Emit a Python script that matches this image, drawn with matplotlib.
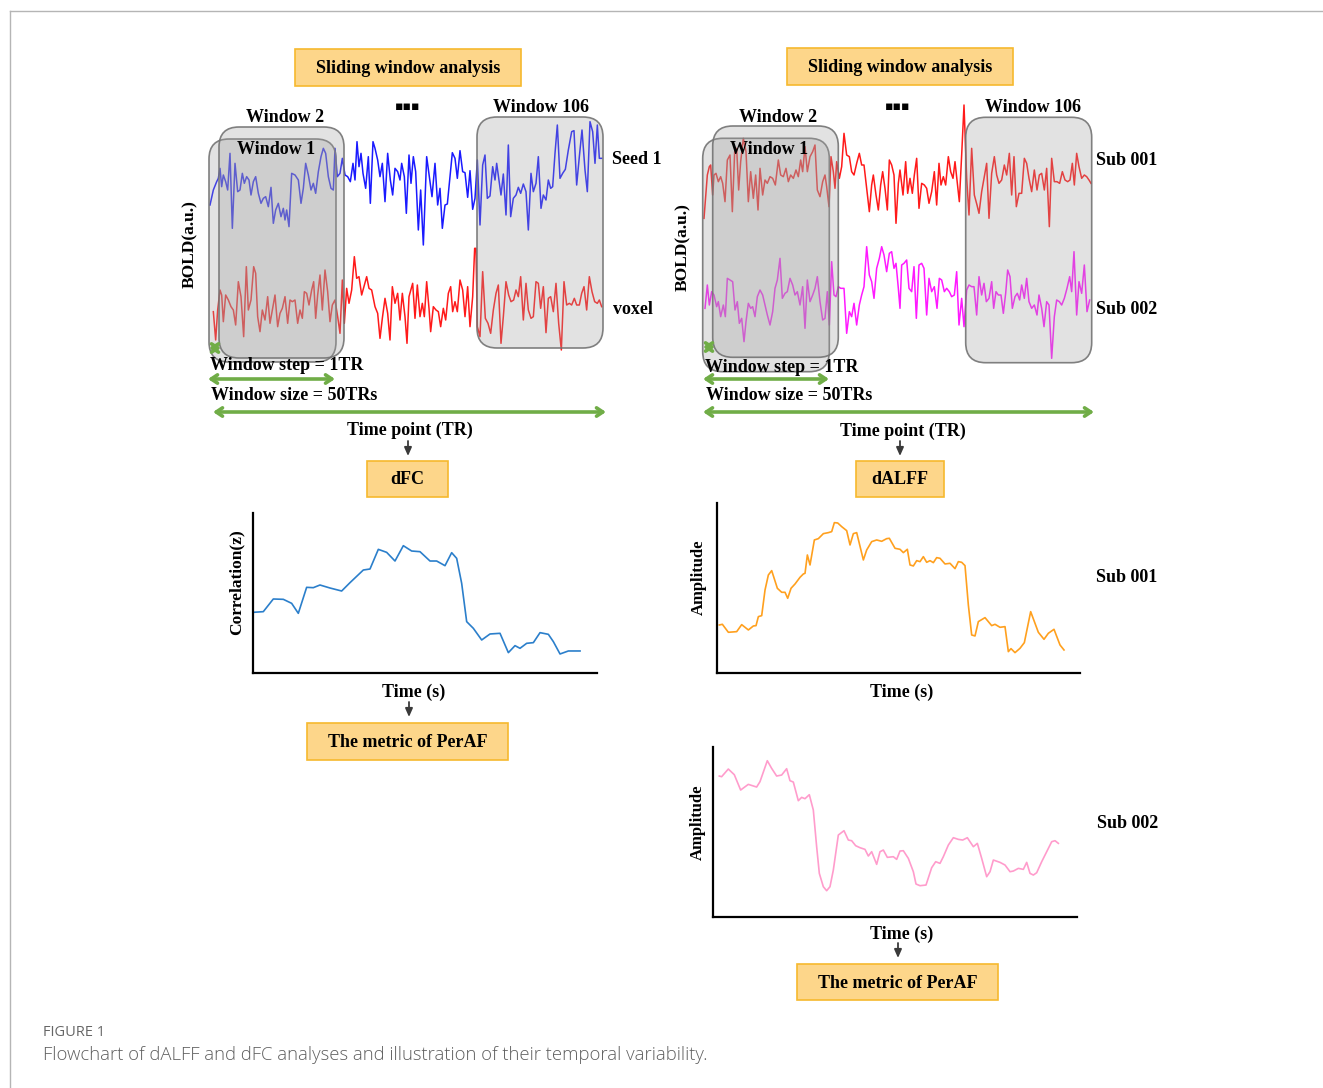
import numpy as np
import matplotlib
matplotlib.use("Agg")
import matplotlib.pyplot as plt
from matplotlib.patches import FancyBboxPatch, Rectangle

W, H = 1323, 1088
SERIF = "Liberation Serif"

# ---- BOLD traces, left panel (time in a.u., level read from the top) ----
seed1_t = [15, 25, 35, 40, 45, 50, 55, 62, 68, 75, 82, 90, 98, 105, 112, 118, 125, 132, 138, 145,
           152, 160, 168, 175, 182, 190, 198, 205, 212, 220, 228, 235, 240, 245, 252, 260, 270, 280,
           288, 295, 302, 310, 318, 325, 332, 340, 348, 355, 362, 370, 378, 385, 390, 397, 405, 412,
           420, 428, 436, 444, 450, 456, 462, 468, 474, 482, 490, 496, 504, 510, 518, 525, 532, 540,
           548, 556, 563, 570, 578, 585, 590, 598, 604, 612, 618, 625, 632, 640, 647, 655, 665, 673,
           681, 690, 698, 705, 712, 720, 727, 735, 742, 750, 757, 765, 773, 780, 788, 795, 803, 810,
           817, 825, 833, 840, 847, 855, 863, 870, 875, 882, 888, 895, 903, 910, 917, 925, 933, 940,
           947, 955, 963, 970, 978, 985, 993, 1000, 1008, 1015, 1023, 1030, 1037, 1043, 1050, 1057,
           1065, 1073, 1081, 1090, 1100, 1107, 1115, 1123, 1131, 1140, 1147, 1155, 1163, 1170, 1177,
           1183, 1190]
seed1_lv = [285, 240, 215, 205, 175, 230, 195, 215, 240, 130, 355, 160, 245, 240, 190, 220, 200, 210,
            255, 215, 200, 250, 280, 265, 260, 290, 232, 340, 300, 280, 320, 295, 330, 300, 350, 190,
            195, 210, 280, 235, 160, 195, 240, 220, 250, 185, 140, 115, 130, 200, 235, 240, 115, 200,
            190, 145, 195, 200, 215, 160, 210, 95, 170, 130, 190, 235, 140, 280, 95, 115, 150, 200,
            160, 275, 130, 210, 255, 175, 185, 210, 160, 200, 310, 135, 220, 140, 185, 360, 240, 405,
            140, 200, 260, 160, 285, 235, 355, 285, 282, 200, 128, 145, 205, 122, 185, 188, 262, 182,
            298, 265, 150, 345, 165, 135, 265, 258, 170, 210, 160, 210, 255, 192, 315, 105, 320, 265,
            255, 232, 250, 222, 245, 360, 190, 245, 220, 140, 295, 255, 270, 210, 235, 230, 130, 45,
            205, 190, 178, 120, 65, 62, 225, 140, 60, 180, 245, 35, 65, 160, 45, 145, 145]

voxel_t = [25, 32, 38, 45, 50, 55, 62, 70, 78, 85, 92, 100, 108, 116, 124, 130, 138, 146, 152, 158,
           165, 172, 180, 188, 195, 202, 210, 218, 225, 232, 240, 248, 255, 262, 270, 278, 285, 292,
           298, 305, 312, 320, 326, 332, 338, 345, 352, 360, 368, 375, 382, 390, 398, 405, 412, 418,
           425, 432, 440, 448, 455, 462, 470, 478, 485, 492, 500, 510, 518, 525, 532, 540, 548, 555,
           562, 570, 578, 585, 592, 600, 606, 612, 623, 630, 637, 645, 652, 658, 665, 672, 677, 685,
           693, 700, 707, 715, 722, 730, 737, 743, 750, 757, 765, 773, 780, 788, 795, 803, 809, 813,
           817, 825, 833, 841, 849, 857, 865, 873, 880, 888, 895, 903, 911, 918, 926, 933, 940, 947,
           955, 963, 970, 978, 985, 993, 1000, 1007, 1015, 1023, 1030, 1037, 1045, 1053, 1061, 1069,
           1077, 1085, 1093, 1100, 1108, 1115, 1123, 1130, 1137, 1145, 1153, 1161, 1169, 1177, 1183,
           1190]
voxel_lv = [605, 690, 600, 540, 555, 635, 555, 570, 590, 600, 645, 515, 560, 680, 470, 600, 570, 470,
            490, 620, 665, 600, 630, 560, 640, 600, 555, 650, 610, 595, 560, 640, 570, 575, 570, 640,
            600, 625, 545, 550, 585, 540, 515, 625, 555, 495, 600, 480, 545, 635, 585, 570, 620, 670,
            510, 640, 535, 580, 540, 440, 505, 500, 555, 525, 500, 535, 540, 590, 610, 685, 625, 565,
            610, 690, 530, 580, 550, 630, 550, 620, 700, 560, 520, 625, 525, 620, 580, 620, 515, 595,
            665, 590, 600, 605, 650, 595, 630, 550, 530, 605, 575, 605, 510, 540, 620, 530, 650, 560,
            415, 415, 650, 680, 485, 625, 640, 670, 600, 550, 525, 700, 620, 515, 555, 575, 570, 540,
            560, 500, 630, 520, 600, 625, 620, 515, 520, 595, 530, 668, 565, 560, 605, 520, 640, 720,
            515, 585, 580, 585, 565, 585, 585, 550, 530, 600, 500, 545, 575, 580, 570, 590]

# ---- BOLD traces, right panel ----
sub1_t = [12, 18, 22, 28, 32, 38, 42, 48, 55, 62, 68, 75, 82, 90, 97, 104, 110, 116, 122, 130, 138,
          145, 152, 160, 167, 174, 180, 188, 195, 202, 210, 218, 226, 235, 242, 250, 258, 265, 272,
          280, 288, 295, 302, 308, 315, 322, 330, 338, 345, 352, 360, 368, 375, 380, 387, 393, 400,
          405, 410, 418, 425, 432, 440, 448, 455, 462, 470, 478, 485, 492, 500, 508, 515, 520, 528,
          535, 542, 548, 555, 562, 568, 575, 582, 588, 595, 600, 609, 617, 623, 630, 637, 643, 650,
          657, 665, 673, 680, 687, 695, 703, 710, 717, 723, 730, 737, 745, 752, 759, 765, 772, 778,
          785, 792, 800, 807, 815, 823, 831, 837, 845, 853, 860, 867, 875, 883, 890, 897, 905, 913,
          920, 928, 935, 942, 949, 957, 965, 973, 980, 987, 995, 1003, 1011, 1018, 1025, 1033, 1040,
          1048, 1055, 1063, 1071, 1079, 1087, 1095, 1103, 1110, 1117, 1123, 1130, 1137, 1145, 1153,
          1160, 1167, 1173]
sub1_lv = [370, 290, 240, 215, 210, 300, 240, 235, 260, 245, 265, 320, 195, 180, 350, 170, 160, 285,
           200, 130, 170, 320, 230, 310, 240, 345, 220, 300, 255, 265, 245, 250, 270, 195, 240, 245,
           220, 260, 240, 250, 225, 245, 195, 230, 155, 230, 185, 170, 150, 285, 305, 260, 240, 275,
           335, 185, 230, 280, 200, 250, 215, 115, 180, 185, 230, 240, 205, 175, 210, 210, 280, 350,
           270, 240, 300, 345, 270, 230, 280, 345, 195, 210, 240, 385, 265, 225, 300, 200, 295, 250,
           295, 240, 190, 340, 265, 270, 280, 325, 290, 230, 330, 205, 270, 245, 270, 185, 230, 250,
           200, 265, 320, 180, 30, 250, 360, 160, 300, 330, 355, 290, 245, 205, 370, 235, 185, 240,
           265, 255, 210, 240, 175, 300, 185, 335, 295, 295, 190, 205, 250, 290, 225, 285, 240, 235,
           285, 220, 395, 190, 260, 260, 265, 230, 255, 260, 255, 205, 270, 175, 215, 250, 240, 245,
           255, 265]

sub2_t = [15, 22, 28, 35, 42, 50, 55, 62, 70, 76, 82, 90, 98, 105, 112, 118, 125, 132, 138, 145, 152,
          158, 165, 172, 180, 188, 195, 202, 210, 218, 225, 232, 240, 247, 255, 262, 270, 278, 285,
          292, 300, 308, 315, 322, 330, 338, 345, 352, 360, 368, 375, 382, 388, 395, 402, 408, 415,
          422, 432, 440, 448, 455, 462, 470, 478, 485, 492, 500, 508, 515, 522, 530, 538, 545, 552,
          560, 568, 575, 582, 588, 595, 600, 605, 612, 620, 627, 635, 642, 649, 657, 665, 672, 680,
          687, 695, 703, 711, 718, 725, 733, 740, 748, 755, 763, 770, 777, 785, 792, 800, 807, 815,
          822, 830, 837, 845, 852, 859, 867, 875, 881, 888, 895, 903, 910, 917, 923, 930, 937, 945,
          952, 959, 965, 973, 980, 987, 995, 1003, 1011, 1017, 1025, 1032, 1040, 1047, 1055, 1063,
          1070, 1078, 1085, 1093, 1101, 1109, 1115, 1122, 1130, 1137, 1145, 1153, 1161, 1169]
sub2_lv = [640, 570, 630, 590, 600, 635, 620, 665, 630, 665, 550, 555, 560, 645, 620, 685, 670, 740,
           680, 625, 640, 635, 665, 605, 585, 600, 630, 660, 690, 650, 580, 555, 490, 610, 595, 590,
           550, 570, 600, 590, 630, 575, 700, 555, 620, 600, 580, 545, 620, 675, 670, 590, 690, 500,
           600, 605, 575, 580, 580, 715, 650, 665, 625, 690, 630, 600, 575, 455, 540, 560, 610, 520,
           490, 455, 480, 530, 475, 470, 520, 505, 580, 640, 510, 505, 495, 580, 590, 515, 670, 510,
           505, 520, 660, 550, 590, 575, 640, 550, 555, 590, 580, 590, 605, 600, 530, 690, 610, 695,
           585, 570, 575, 575, 660, 545, 600, 565, 620, 610, 560, 640, 590, 600, 600, 655, 595, 525,
           545, 640, 605, 595, 615, 570, 610, 550, 620, 640, 630, 660, 600, 640, 695, 620, 630, 790,
           665, 615, 620, 630, 610, 580, 545, 590, 470, 660, 560, 595, 510, 650, 615]

# ---- dynamic metric curves (time a.u., level read from the top) ----
dfc_t = [100, 130, 160, 190, 215, 235, 260, 280, 300, 330, 365, 390, 430, 450, 475, 500, 525, 550,
         575, 600, 630, 650, 675, 695, 710, 725, 740, 760, 785, 810, 840, 865, 885, 900, 920, 940,
         960, 985, 1000, 1020, 1045, 1080]
dfc_lv = [337, 335, 297, 298, 310, 340, 262, 263, 255, 264, 273, 248, 210, 207, 148, 157, 183, 137,
          153, 155, 183, 183, 197, 158, 175, 250, 365, 385, 420, 402, 400, 458, 437, 445, 430, 428,
          398, 403, 425, 462, 453, 453]

dalff1_t = [88, 97, 115, 140, 155, 175, 190, 198, 205, 215, 225, 235, 245, 262, 275, 285, 293, 303,
            315, 330, 340, 345, 352, 360, 373, 385, 400, 415, 425, 433, 443, 455, 470, 480, 490, 500,
            520, 530, 545, 560, 575, 590, 598, 615, 630, 640, 652, 660, 670, 680, 690, 700, 710, 720,
            730, 740, 750, 765, 780, 795, 805, 815, 825, 835, 845, 855, 865, 885, 905, 915, 930, 945,
            955, 963, 975, 990, 1003, 1022, 1045, 1062, 1075, 1092, 1110, 1122]
dalff1_lv = [405, 403, 427, 425, 404, 420, 408, 407, 380, 377, 300, 255, 242, 295, 307, 307, 325, 295,
             282, 262, 252, 250, 195, 225, 150, 146, 131, 128, 125, 98, 99, 110, 122, 165, 131, 128,
             210, 180, 155, 150, 154, 146, 145, 175, 178, 188, 178, 225, 228, 212, 215, 200, 217, 212,
             218, 203, 205, 222, 220, 236, 215, 217, 227, 345, 435, 438, 395, 383, 407, 403, 412, 410,
             485, 476, 488, 475, 458, 365, 427, 448, 430, 418, 465, 480]

dalff2_t = [118, 125, 145, 163, 182, 205, 230, 240, 262, 275, 290, 305, 320, 330, 340, 355, 365, 375,
            388, 400, 410, 418, 430, 440, 450, 460, 475, 492, 505, 515, 527, 540, 555, 565, 575, 590,
            600, 610, 622, 640, 650, 660, 670, 685, 700, 708, 720, 738, 755, 767, 780, 790, 805, 820,
            835, 848, 862, 880, 892, 905, 920, 930, 940, 960, 975, 990, 1000, 1015, 1030, 1040, 1050,
            1060, 1070, 1085, 1100, 1115, 1125, 1135]
dalff2_lv = [108, 110, 87, 104, 150, 133, 141, 125, 62, 85, 108, 105, 86, 122, 126, 182, 172, 176,
             164, 210, 320, 400, 440, 452, 440, 390, 285, 272, 300, 302, 317, 323, 328, 348, 335, 373,
             335, 330, 352, 350, 358, 333, 332, 355, 395, 432, 437, 435, 383, 365, 370, 350, 315, 293,
             298, 300, 293, 320, 310, 355, 410, 395, 360, 367, 375, 395, 393, 385, 388, 367, 400, 405,
             398, 365, 335, 305, 302, 310]

fig = plt.figure(figsize=(W / 100, H / 100), dpi=100)


def px_axes(x0, y0, x1, y1, z=1):
    return fig.add_axes([x0 / W, 1 - y1 / H, (x1 - x0) / W, (y1 - y0) / H], zorder=z)


# signal panels
ax_l = px_axes(205, 110, 615, 360)
ax_l.plot(seed1_t, seed1_lv, color="#1a1aff", lw=1.1)
ax_l.plot(voxel_t, voxel_lv, color="#ff1a1a", lw=1.1)
ax_l.set_xlim(0, 1230)
ax_l.set_ylim(750, 0)
ax_l.axis("off")

ax_r = px_axes(700, 95, 1100, 365)
ax_r.plot(sub1_t, sub1_lv, color="#ff1a1a", lw=1.1)
ax_r.plot(sub2_t, sub2_lv, color="#ff1aff", lw=1.1)
ax_r.set_xlim(0, 1200)
ax_r.set_ylim(810, 0)
ax_r.axis("off")


def metric_axes(ax, t, lv, color, xlim, ylim):
    ax.plot(t, lv, color=color, lw=1.2)
    ax.set_xlim(*xlim)
    ax.set_ylim(*ylim)
    ax.set_xticks([])
    ax.set_yticks([])
    ax.spines[["top", "right"]].set_visible(False)
    for s in ("left", "bottom"):
        ax.spines[s].set_linewidth(1.6)
        ax.spines[s].set_color("black")
    ax.patch.set_alpha(0)


metric_axes(px_axes(253.3, 512.7, 596.7, 673.3), dfc_t, dfc_lv, "#2b7fcb", (100, 1130), (520, 38))
metric_axes(px_axes(716.7, 503.3, 1080, 673.3), dalff1_t, dalff1_lv, "#ffa01e", (80, 1170), (550, 40))
metric_axes(px_axes(713.3, 746.7, 1076.7, 916.7), dalff2_t, dalff2_lv, "#ff9ccc", (100, 1190), (530, 20))

# overlay for boxes, labels and arrows (pixel coordinates)
ov = fig.add_axes([0, 0, 1, 1], zorder=5)
ov.set_xlim(0, W)
ov.set_ylim(H, 0)
ov.axis("off")
ov.patch.set_alpha(0)

# frame lines of the figure page
ov.plot([10, W], [11, 11], color="#b5b5b5", lw=1)
ov.plot([10, 10], [11, H], color="#b5b5b5", lw=1)


def txt(x, y, s, size=13, ha="center", **kw):
    ov.text(x, y, s, fontsize=size, ha=ha, va="center", family=SERIF,
            fontweight="bold", color="black", **kw)


def orange_box(x0, y0, x1, y1, label):
    ov.add_patch(Rectangle((x0, y0), x1 - x0, y1 - y0, facecolor="#fdd68a",
                           edgecolor="#f6b92e", lw=1.2))
    txt((x0 + x1) / 2, (y0 + y1) / 2 + 1, label, size=13)


def window(x0, y0, x1, y1):
    ov.add_patch(FancyBboxPatch((x0, y0), x1 - x0, y1 - y0,
                                boxstyle="round,pad=0,rounding_size=20",
                                facecolor=(0.63, 0.63, 0.63, 0.3),
                                edgecolor=(0.45, 0.45, 0.45, 0.9), lw=1.2))


def green_arrow(x0, x1, y):
    ov.annotate("", xy=(x1, y), xytext=(x0, y),
                arrowprops=dict(arrowstyle="<->,head_length=0.45,head_width=0.3",
                                color="#70ad47", lw=2.6, shrinkA=0, shrinkB=0))
    ov.plot([x0 + 5, x1 - 5], [y, y], color="white", lw=0.8)


def down_arrow(x, y0, y1):
    ov.annotate("", xy=(x, y1), xytext=(x, y0),
                arrowprops=dict(arrowstyle="-|>,head_length=0.5,head_width=0.22",
                                color="#3a3a3a", lw=1.3, shrinkA=0, shrinkB=0))


panels = [
    dict(w1=(209, 139, 336, 362), w2=(219, 127, 344, 358), w106=(477, 117, 603, 348),
         w1_lab=(276, 150), w2_lab=(285, 117), w106_lab=(541, 108), dots=(408, 106),
         sig=[("Seed 1", 612, 160), ("voxel", 613, 310)], bold=(190, 244),
         step=(209, 221, 348), step_txt=(210, 366), step_arr=(208, 335, 379),
         size_txt=(211, 396), size_arr=(213, 606, 412), tp=(410, 430),
         head=(295, 49, 520.7, 86), arr_x=408),
    dict(w1=(702.7, 138.3, 829.3, 371.7), w2=(712.7, 126, 838.3, 357.3),
         w106=(965.7, 117.3, 1091.7, 362.7),
         w1_lab=(769.5, 149), w2_lab=(778, 117), w106_lab=(1033, 108), dots=(898, 106),
         sig=[("Sub 001", 1096, 160.7), ("Sub 002", 1096, 309)], bold=(683, 247),
         step=(703, 715, 347), step_txt=(705, 367), step_arr=(703, 829, 379),
         size_txt=(706, 396), size_arr=(703, 1094, 412), tp=(903, 431),
         head=(787.3, 48.3, 1013.3, 85), arr_x=900),
]

for p in panels:
    orange_box(*p["head"], "Sliding window analysis")
    window(*p["w1"])
    window(*p["w2"])
    window(*p["w106"])
    txt(*p["w1_lab"], "Window 1")
    txt(*p["w2_lab"], "Window 2")
    txt(*p["w106_lab"], "Window 106")
    ov.text(*p["dots"], "\u25aa\u25aa\u25aa", fontsize=9, ha="center", va="center",
            family="DejaVu Sans", color="black")
    for lab, x, y in p["sig"]:
        txt(x, y, lab, ha="left")
    txt(*p["bold"], "BOLD(a.u.)", size=12.5, rotation=90)
    green_arrow(*p["step"])
    txt(*p["step_txt"], "Window step = 1TR", ha="left")
    green_arrow(*p["step_arr"])
    txt(*p["size_txt"], "Window size = 50TRs", ha="left")
    green_arrow(*p["size_arr"])
    txt(*p["tp"], "Time point (TR)")
    down_arrow(p["arr_x"], 441, 456)

orange_box(367, 461, 448, 497, "dFC")
orange_box(856, 461, 944, 497, "dALFF")

# lower plots labels
txt(237, 582, "Correlation(z)", size=12.5, rotation=90)
txt(414, 692, "Time (s)")
down_arrow(409, 702, 717)
orange_box(307.3, 723.3, 508.3, 760, "The metric of PerAF")

txt(699, 577, "Amplitude", size=12, rotation=90)
txt(902, 692, "Time (s)")
txt(1096, 577, "Sub 001", ha="left")

txt(698, 822, "Amplitude", size=12, rotation=90)
txt(902, 934, "Time (s)")
txt(1097, 823, "Sub 002", ha="left")
down_arrow(898, 943, 958)
orange_box(797.3, 964, 998.3, 1000, "The metric of PerAF")

# caption
ov.text(43, 1032, "FIGURE 1", fontsize=10.5, ha="left", va="center",
        family="Open Sans", color="#666666")
ov.text(43, 1055, "Flowchart of dALFF and dFC analyses and illustration of their temporal variability.",
        fontsize=13.3, ha="left", va="center", family="Open Sans", color="#5f5f5f",
        fontweight="light")

fig.savefig("out.png", dpi=100)
